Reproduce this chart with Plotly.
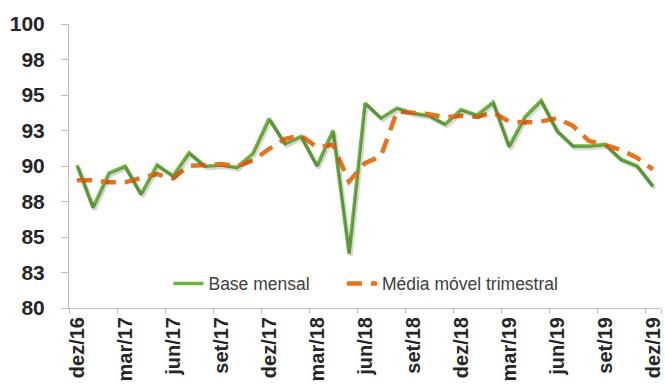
import plotly.graph_objects as go

months = ["dez/16",
          "jan/17", "fev/17", "mar/17", "abr/17", "mai/17", "jun/17",
          "jul/17", "ago/17", "set/17", "out/17", "nov/17", "dez/17",
          "jan/18", "fev/18", "mar/18", "abr/18", "mai/18", "jun/18",
          "jul/18", "ago/18", "set/18", "out/18", "nov/18", "dez/18",
          "jan/19", "fev/19", "mar/19", "abr/19", "mai/19", "jun/19",
          "jul/19", "ago/19", "set/19", "out/19", "nov/19", "dez/19"]

base_mensal = [90.07,
               87.07, 89.50, 89.98, 88.00, 90.07, 89.30,
               90.92, 89.98, 90.07, 89.90, 90.90, 93.33,
               91.56, 92.08, 90.00, 92.50, 83.83, 94.43,
               93.37, 94.08, 93.72, 93.54, 92.94, 93.96,
               93.58, 94.48, 91.36, 93.46, 94.60, 92.47,
               91.40, 91.40, 91.52, 90.46, 90.00, 88.57]

media_movel = [89.00,
               89.00, 88.85, 88.85, 89.15, 89.43, 89.13,
               90.02, 90.07, 90.14, 89.98, 90.38, 91.20,
               91.91, 92.15, 91.32, 91.50, 88.90, 90.20,
               90.70, 93.85, 93.72, 93.65, 93.42, 93.54,
               93.46, 93.77, 93.14, 93.07, 93.14, 93.37,
               92.82, 91.76, 91.48, 91.12, 90.58, 89.75]

y_tickvals = [80, 82.5, 85, 87.5, 90, 92.5, 95, 97.5, 100]
y_ticktext = ["80", "83", "85", "88", "90", "93", "95", "98", "100"]
x_tickvals = months[::3]

n = len(months)
fig = go.Figure()
# soft drop shadow under the monthly line (same data on slightly offset overlay axes)
fig.add_trace(go.Scatter(
    x=months, y=base_mensal, mode="lines", showlegend=False, hoverinfo="skip",
    line=dict(color="rgba(0,0,0,0.16)", width=4),
))
fig.add_trace(go.Scatter(
    x=months, y=base_mensal, mode="lines", name="Base mensal",
    line=dict(color="#6cb33f", width=3.5), legend="legend",
))
fig.add_trace(go.Scatter(
    x=months, y=media_movel, mode="lines", name="Média móvel trimestral",
    line=dict(color="#e8731c", width=4.5, dash="15px,9px"), legend="legend2",
))
fig.data[0].update(xaxis="x2", yaxis="y2")

axis_col = "#bfbfbf"
font_fam = "Liberation Sans, Arial"
leg_font = dict(family=font_fam, size=17.5, color="#404040")
fig.update_layout(
    width=665, height=388,
    margin=dict(l=69, r=2, t=24, b=80),
    paper_bgcolor="white", plot_bgcolor="white",
    showlegend=True,
    legend=dict(
        orientation="h", x=0.168, xanchor="left", y=0.086, yanchor="middle",
        font=leg_font, bgcolor="rgba(0,0,0,0)",
    ),
    legend2=dict(
        orientation="h", x=0.461, xanchor="left", y=0.086, yanchor="middle",
        font=leg_font, bgcolor="rgba(0,0,0,0)",
    ),
    xaxis=dict(
        type="category", categoryorder="array", categoryarray=months,
        range=[-0.5, n - 0.5],
        tickmode="array", tickvals=x_tickvals, ticktext=x_tickvals,
        tickson="boundaries",
        ticks="outside", ticklen=5, tickcolor=axis_col, tickwidth=1,
        showline=True, linecolor=axis_col, linewidth=1,
        showgrid=False, zeroline=False,
        tickangle=-90,
        tickfont=dict(family=font_fam, size=20, color="#262626", weight="bold"),
    ),
    yaxis=dict(
        range=[80, 100],
        tickmode="array", tickvals=y_tickvals, ticktext=y_ticktext,
        ticks="outside", ticklen=7, tickcolor=axis_col, tickwidth=1,
        showline=True, linecolor=axis_col, linewidth=1,
        showgrid=False, zeroline=False,
        ticklabelstandoff=12,
        tickfont=dict(family=font_fam, size=21, color="#262626", weight="bold"),
    ),
    xaxis2=dict(
        type="category", categoryorder="array", categoryarray=months,
        range=[-0.5 - 0.1, n - 0.5 - 0.1], overlaying="x", visible=False,
    ),
    yaxis2=dict(
        range=[80 + 0.15, 100 + 0.15], overlaying="y", visible=False,
    ),
)

fig.write_html("out.html")
